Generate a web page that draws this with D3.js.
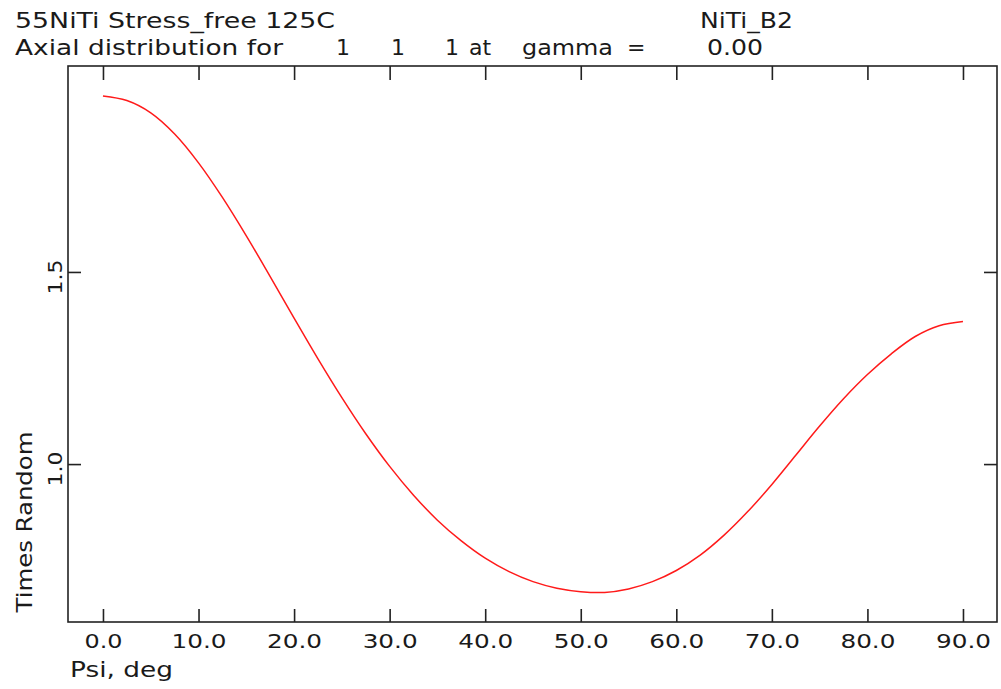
<!DOCTYPE html>
<html>
<head>
<meta charset="utf-8">
<script src="https://cdn.jsdelivr.net/npm/d3@7"></script>
<style>
  html, body { margin: 0; padding: 0; background: #fff; }
  svg text { font-family: "DejaVu Sans", "Liberation Sans", sans-serif; fill: #1a1a1a; }
</style>
</head>
<body>
<svg id="chart" width="1001" height="689"></svg>
<script>
// ---- data ----
const psi = [0, 2.5, 5, 7.5, 10, 12.5, 15, 17.5, 20, 22.5, 25, 27.5, 30, 32.5, 35, 37.5, 40, 42.5, 45, 47.5,
             50, 52.5, 55, 57.5, 60, 62.5, 65, 67.5, 70, 72.5, 75, 77.5, 80, 82.5, 85, 87.5, 90];
const timesRandom = [1.958, 1.946, 1.914, 1.859, 1.784, 1.694, 1.594, 1.488, 1.380, 1.274, 1.173, 1.079, 0.994,
                     0.919, 0.854, 0.800, 0.755, 0.720, 0.694, 0.677, 0.668, 0.666, 0.675, 0.694, 0.723, 0.763,
                     0.815, 0.877, 0.947, 1.023, 1.099, 1.170, 1.233, 1.287, 1.332, 1.360, 1.371];
const xTicks = [0, 10, 20, 30, 40, 50, 60, 70, 80, 90];
const yTicks = [1.0, 1.5];
const xLimits = [-3.66, 93.56];
const yLimits = [0.589, 2.036];

// ---- layout ----
const svg = d3.select("#chart");
const L = 68, R = 997, T = 66, B = 622;

const x = d3.scaleLinear().domain(xLimits).range([L, R]);
const y = d3.scaleLinear().domain(yLimits).range([B, T]);

// frame
svg.append("rect").attr("x", L).attr("y", T).attr("width", R - L).attr("height", B - T)
  .attr("fill", "none").attr("stroke", "#222").attr("stroke-width", 1.6);

// axes with inward ticks
const fmt = d => d.toFixed(1);
const gB = svg.append("g").attr("transform", `translate(0,${B})`)
  .call(d3.axisBottom(x).tickValues(xTicks).tickSize(-13).tickPadding(26).tickFormat(fmt));
const gT = svg.append("g").attr("transform", `translate(0,${T})`)
  .call(d3.axisTop(x).tickValues(xTicks).tickSize(-14).tickFormat(""));
const gL = svg.append("g").attr("transform", `translate(${L},0)`)
  .call(d3.axisLeft(y).tickValues(yTicks).tickSize(-13).tickFormat(""));
const gR = svg.append("g").attr("transform", `translate(${R},0)`)
  .call(d3.axisRight(y).tickValues(yTicks).tickSize(-13).tickFormat(""));
[gB, gT, gL, gR].forEach(g => {
  g.select(".domain").remove();
  g.selectAll(".tick line").attr("stroke", "#222").attr("stroke-width", 1.6);
});
gB.selectAll(".tick text")
  .attr("font-size", 20).attr("fill", "#1a1a1a").attr("dy", 0).attr("y", 26)
  .attr("textLength", d => fmt(d).length === 3 ? 38 : 55)
  .attr("lengthAdjust", "spacingAndGlyphs");

// y tick labels (rotated)
svg.append("g").selectAll("text").data(yTicks).join("text")
  .attr("transform", d => `translate(62,${y(d) + 5}) rotate(-90)`)
  .attr("text-anchor", "middle").attr("font-size", 20)
  .attr("textLength", 35).attr("lengthAdjust", "spacingAndGlyphs")
  .text(fmt);

// axis titles
svg.append("text").attr("transform", "translate(32,522) rotate(-90)")
  .attr("text-anchor", "middle").attr("font-size", 21)
  .attr("textLength", 181).attr("lengthAdjust", "spacingAndGlyphs")
  .text("Times Random");
svg.append("text").attr("x", 70).attr("y", 677).attr("font-size", 21)
  .attr("textLength", 103).attr("lengthAdjust", "spacingAndGlyphs")
  .text("Psi, deg");

// header texts
const header = [
  { t: "55NiTi Stress_free 125C", x: 15, y: 28, w: 320 },
  { t: "NiTi_B2", x: 700, y: 28, w: 93 },
  { t: "Axial distribution for", x: 15, y: 55, w: 268 },
  { t: "1", x: 336, y: 55 },
  { t: "1", x: 391, y: 55 },
  { t: "1", x: 445, y: 55 },
  { t: "at", x: 469, y: 55 },
  { t: "gamma", x: 522, y: 55, w: 91 },
  { t: "=", x: 627, y: 55 },
  { t: "0.00", x: 707, y: 55, w: 56 }
];
const ht = svg.append("g").selectAll("text").data(header).join("text")
  .attr("x", d => d.x).attr("y", d => d.y).attr("font-size", 22)
  .text(d => d.t);
ht.filter(d => d.w).attr("textLength", d => d.w).attr("lengthAdjust", "spacingAndGlyphs");

// curve
const line = d3.line().x((d, i) => x(psi[i])).y(d => y(d)).curve(d3.curveCatmullRom.alpha(0.5));
svg.append("path").datum(timesRandom).attr("d", line)
  .attr("fill", "none").attr("stroke", "#ff1a1a").attr("stroke-width", 1.5);
</script>
</body>
</html>
